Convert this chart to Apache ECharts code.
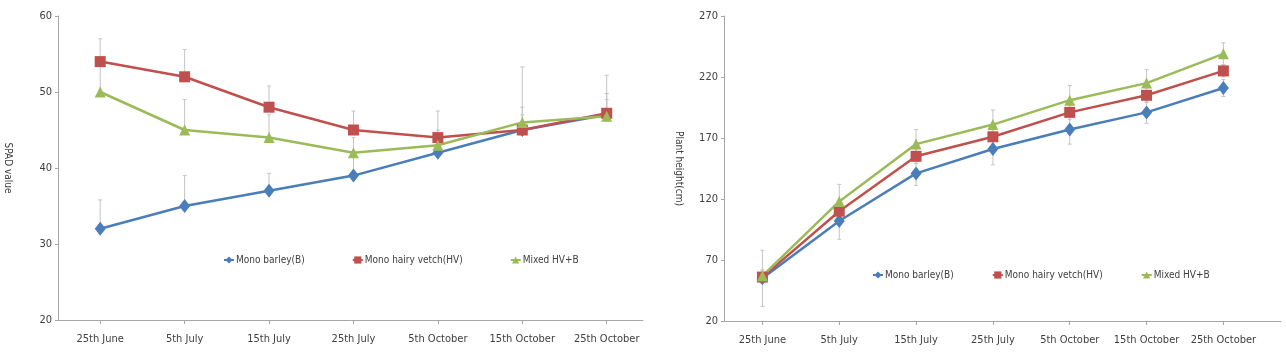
<!DOCTYPE html>
<html>
<head>
<meta charset="utf-8">
<script src="https://cdn.jsdelivr.net/npm/echarts@6/dist/echarts.min.js"></script>
<style>
html,body{margin:0;padding:0;background:#fff;}
#c{width:1286px;height:359px;}
</style>
</head>
<body>
<div id="c"></div>
<script>
const categories = ['25th June','5th July','15th July','25th July','5th October','15th October','25th October'];
const seriesNames = ['Mono barley(B)','Mono hairy vetch(HV)','Mixed HV+B'];

// SPAD value (left chart)
const spadBarley = [32, 35, 37, 39, 42, 45, 47];
const spadVetch  = [54, 52, 48, 45, 44, 45, 47.2];
const spadMixed  = [50, 45, 44, 42, 43, 46, 46.8];
const spadErrBarley = [3.8, 4, 2.3, 2.5, 2, 2, 2];
const spadErrVetch  = [3, 3.6, 2.8, 2.5, 3.5, 3, 5];
const spadErrMixed  = [4, 4, 3, 2, 2, 7.3, 3];
const spadTicks = [20, 30, 40, 50, 60];

// Plant height (right chart)
const heightBarley = [55, 102, 141, 161, 177, 191, 211];
const heightVetch  = [56, 110, 155, 171, 191, 205, 225];
const heightMixed  = [57, 118, 165, 181, 201, 215, 239];
const heightErrBarley = [23, 15, 10, 13, 12, 9, 7];
const heightErrVetch  = [5, 8, 6, 6, 6, 6, 5];
const heightErrMixed  = [5, 14, 12, 12, 12, 11, 9];
const heightTicks = [20, 70, 120, 170, 220, 270];

const colors = ['#4a7ebb', '#c0504d', '#9bbb59'];
const symbols = ['diamond', 'rect', 'triangle'];
const symbolSizes = [[11, 14], 11, 11];
const FONT = "'Liberation Sans Narrow', 'DejaVu Sans Condensed', Arial, sans-serif";
const catIdx = categories.map((c, i) => i);

function errSeries(ax, vals, errs, symmetric) {
  return {
    type: 'custom', xAxisIndex: ax, yAxisIndex: ax, silent: true, z: 1,
    data: vals.map((v, i) => [i, symmetric ? v - errs[i] : v, v + errs[i]]),
    encode: { x: 0, y: [1, 2] },
    renderItem: function (params, api) {
      const lo = api.coord([api.value(0), api.value(1)]);
      const hi = api.coord([api.value(0), api.value(2)]);
      const st = { stroke: '#c4c4c4', lineWidth: 1 };
      const ch = [
        { type: 'line', shape: { x1: lo[0], y1: lo[1], x2: hi[0], y2: hi[1] }, style: st },
        { type: 'line', shape: { x1: hi[0] - 2, y1: hi[1], x2: hi[0] + 2, y2: hi[1] }, style: st }
      ];
      if (symmetric) ch.push({ type: 'line', shape: { x1: lo[0] - 2, y1: lo[1], x2: lo[0] + 2, y2: lo[1] }, style: st });
      return { type: 'group', children: ch };
    }
  };
}

function lineSeries(ax, k, vals) {
  return {
    name: seriesNames[k], type: 'line', xAxisIndex: ax, yAxisIndex: ax, z: 3,
    data: vals.map((v, i) => [i, v]),
    symbol: symbols[k], symbolSize: symbolSizes[k],
    lineStyle: { color: colors[k], width: 2.5 },
    itemStyle: { color: colors[k] },
    emphasis: { disabled: true }
  };
}

function xAxisCfg(gi, maxV) {
  return {
    type: 'value', gridIndex: gi, min: -0.5, max: maxV,
    axisLine: { show: true, onZero: false, lineStyle: { color: '#a6a6a6', width: 1 } },
    axisTick: { show: true, customValues: catIdx, length: 4, lineStyle: { color: '#a6a6a6' } },
    axisLabel: { customValues: catIdx, formatter: v => categories[v], margin: 14, color: '#404040', fontSize: 11, fontFamily: FONT },
    splitLine: { show: false }
  };
}

function yAxisCfg(gi, ticks, name, gap) {
  return {
    type: 'value', gridIndex: gi, min: ticks[0], max: ticks[ticks.length - 1], interval: ticks[1] - ticks[0],
    name: name, nameLocation: 'middle', nameRotate: -90, nameGap: gap,
    nameTextStyle: { color: '#404040', fontSize: 10, fontFamily: FONT },
    axisLine: { show: true, onZero: false, lineStyle: { color: '#a6a6a6', width: 1 } },
    axisTick: { show: true, length: 3, lineStyle: { color: '#a6a6a6' } },
    axisLabel: { color: '#404040', fontSize: 11, fontFamily: FONT, margin: 6 },
    splitLine: { show: false }
  };
}

function legendCfg(left, top, gap) {
  return {
    data: seriesNames, left: left, top: top, itemGap: gap, itemWidth: 10, itemHeight: 9,
    textStyle: { color: '#404040', fontSize: 10, fontFamily: FONT, padding: [0, 0, 0, -3] },
    selectedMode: false
  };
}

const chart = echarts.init(document.getElementById('c'), null, { renderer: 'canvas' });
chart.setOption({
  animation: false,
  backgroundColor: '#ffffff',
  grid: [
    { left: 58, right: 643, top: 16, bottom: 39 },
    { left: 724, right: 5, top: 16, bottom: 38 }
  ],
  xAxis: [xAxisCfg(0, 6.43), xAxisCfg(1, 6.75)],
  yAxis: [yAxisCfg(0, spadTicks, 'SPAD value', 45), yAxisCfg(1, heightTicks, 'Plant height(cm)', 40)],
  legend: [legendCfg(218, 250, 47), legendCfg(867, 265, 38)],
  series: [
    errSeries(0, spadBarley, spadErrBarley, false),
    errSeries(0, spadVetch, spadErrVetch, false),
    errSeries(0, spadMixed, spadErrMixed, false),
    lineSeries(0, 0, spadBarley),
    lineSeries(0, 1, spadVetch),
    lineSeries(0, 2, spadMixed),
    errSeries(1, heightBarley, heightErrBarley, true),
    errSeries(1, heightVetch, heightErrVetch, true),
    errSeries(1, heightMixed, heightErrMixed, true),
    lineSeries(1, 0, heightBarley),
    lineSeries(1, 1, heightVetch),
    lineSeries(1, 2, heightMixed)
  ]
});
</script>
</body>
</html>
